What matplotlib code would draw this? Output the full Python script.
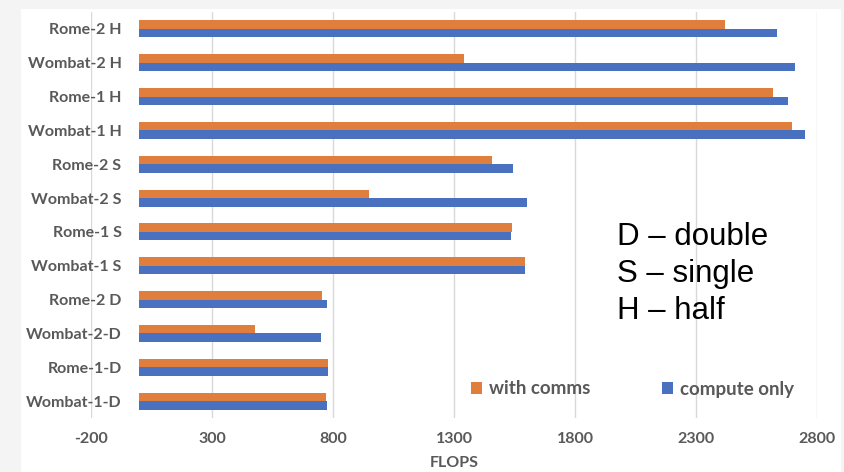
import matplotlib.pyplot as plt
from matplotlib.patches import Rectangle
import numpy as np

plt.rcParams["axes.unicode_minus"] = False

# categories from bottom to top
labels = ["Wombat-1-D", "Rome-1-D", "Wombat-2-D", "Rome-2 D",
          "Wombat-1 S", "Rome-1 S", "Wombat-2 S", "Rome-2 S",
          "Wombat-1 H", "Rome-1 H", "Wombat-2 H", "Rome-2 H"]
with_comms = [772, 781, 478, 756, 1593, 1541, 950, 1456, 2698, 2617, 1341, 2421]
compute_only = [776, 781, 752, 775, 1593, 1534, 1603, 1543, 2750, 2680, 2709, 2636]
xticks = [-200, 300, 800, 1300, 1800, 2300, 2800]
key_lines = ["D \u2013 double", "S \u2013 single", "H \u2013 half"]

W, H = 845, 472
fig = plt.figure(figsize=(W / 100, H / 100), dpi=100)
fig.patch.set_facecolor("#f4f4f4")
bg = Rectangle((21 / W, 0), (841 - 21) / W, (H - 9) / H,
               transform=fig.transFigure, facecolor="white",
               edgecolor="none", zorder=-10)
fig.patches.append(bg)

ax = fig.add_axes([91 / W, 1 - 418 / H, (817 - 91) / W, (418 - 12) / H])
ax.set_facecolor("none")

y = np.arange(len(labels))
h = 0.25
ax.barh(y + h / 2, with_comms, height=h, color="#E07E3E", label="with comms", zorder=3)
ax.barh(y - h / 2, compute_only, height=h, color="#4A70C0", label="compute only", zorder=3)

ax.set_xlim(-200, 2800)
ax.set_ylim(-0.5, len(labels) - 0.5)
ax.set_xticks(xticks)
ax.set_yticks(y)
ax.set_yticklabels(labels)
ax.tick_params(length=0, colors="#595959")
ax.tick_params(axis="y", pad=-22)
ax.tick_params(axis="x", pad=10)
for t in ax.get_yticklabels() + ax.get_xticklabels():
    t.set_fontfamily("Lato")
    t.set_fontweight("bold")
    t.set_fontsize(11.5)
    t.set_color("#595959")
ax.xaxis.grid(True, color="#d9d9d9", linewidth=1, zorder=0)
for s in ax.spines.values():
    s.set_visible(False)

ax.set_xlabel("FLOPS", fontfamily="Lato", fontweight="bold", fontsize=11.5,
              color="#595959", labelpad=7)

leg = fig.legend(*ax.get_legend_handles_labels(), loc="center left", ncol=2,
                 frameon=False, handlelength=0.58, handleheight=0.58,
                 columnspacing=3.8, handletextpad=0.4, borderpad=0,
                 borderaxespad=0, bbox_to_anchor=(471 / W, 1 - 389 / H),
                 prop={"family": "Lato", "weight": "bold", "size": 13.5})
for t in leg.get_texts():
    t.set_color("#595959")

for i, line in enumerate(key_lines):
    fig.text(617 / W, 1 - (245 + 37 * i) / H, line,
             fontfamily="Liberation Sans", fontsize=22.5, color="black",
             va="baseline", ha="left")

fig.savefig("out.png", dpi=100, facecolor=fig.get_facecolor())
